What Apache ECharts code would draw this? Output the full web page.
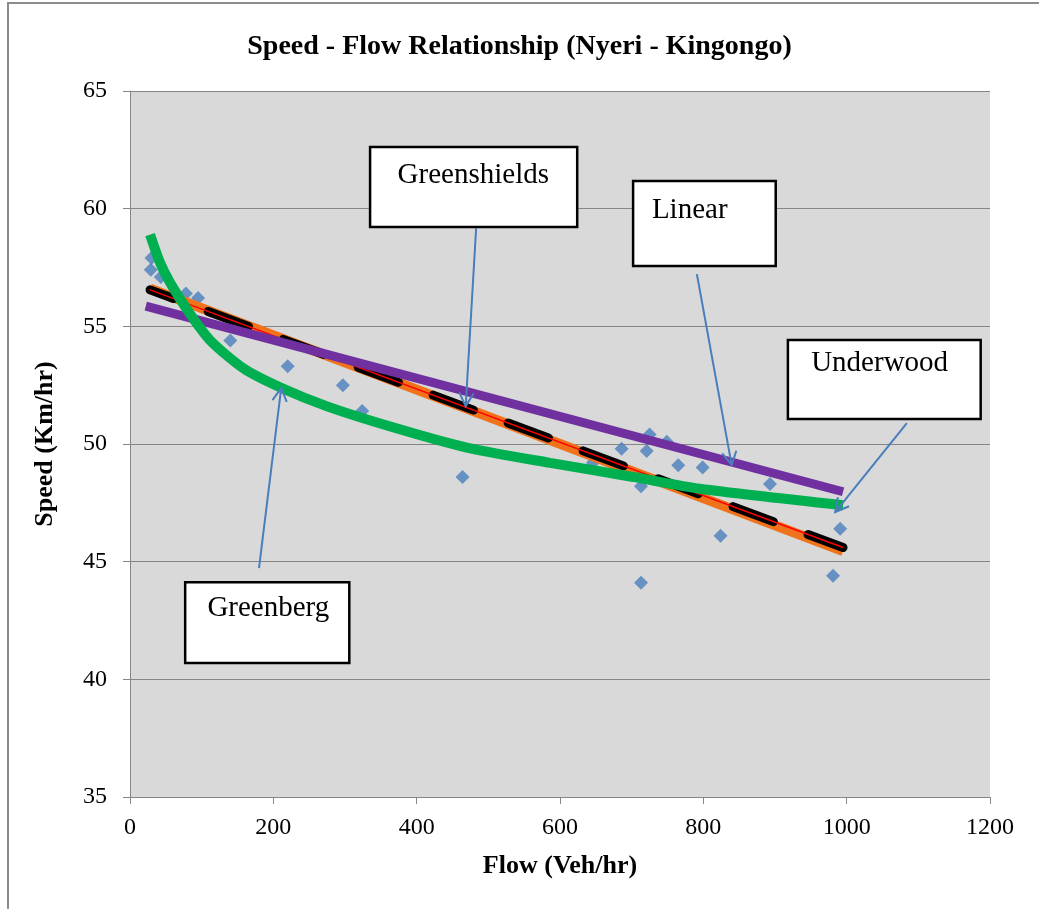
<!DOCTYPE html>
<html>
<head>
<meta charset="utf-8">
<title>Speed - Flow Relationship (Nyeri - Kingongo)</title>
<style>
  html, body { margin: 0; padding: 0; background: #fff; }
  #main { width: 1039px; height: 909px; }
</style>
<script src="https://cdn.jsdelivr.net/npm/echarts@6/dist/echarts.min.js"></script>
</head>
<body>
<div id="main"></div>
<script>
// observed flow / speed points
var obsFlow  = [29, 30, 43, 78, 95, 140, 220, 297, 324, 464, 646, 686, 713, 713, 721, 725, 749, 765, 799, 824, 893, 981, 991];
var obsSpeed = [57.4, 57.9, 57.1, 56.4, 56.2, 54.4, 53.3, 52.5, 51.4, 48.6, 49.2, 49.8, 48.2, 44.1, 49.7, 50.4, 50.1, 49.1, 49.0, 46.1, 48.3, 44.4, 46.4];

// fitted models
var linFlow  = [22, 995];
var linSpeed = [55.86, 47.97];

var gsFlow  = [28, 995];
var gsSpeed = [56.6, 45.45];

var fitFlow  = [28, 995];
var fitSpeed = [56.55, 45.6];

var gbFlow  = [28, 42, 56, 82, 112, 159, 210, 275, 368, 470, 586, 702, 795, 995];
var gbSpeed = [58.9, 57.7, 56.85, 55.6, 54.4, 53.2, 52.4, 51.6, 50.7, 49.85, 49.2, 48.6, 48.1, 47.4];

var xTicks = [0, 200, 400, 600, 800, 1000, 1200];
var yTicks = [35, 40, 45, 50, 55, 60, 65];

function pairs(xs, ys) {
  return xs.map(function (x, i) { return [x, ys[i]]; });
}

var serif = '"Liberation Serif", "DejaVu Serif", serif';

var chart = echarts.init(document.getElementById('main'));
var option = {
  animation: false,
  backgroundColor: '#fff',
  title: {
    text: 'Speed - Flow Relationship (Nyeri - Kingongo)',
    left: 'center',
    top: 28,
    textStyle: { fontFamily: serif, fontSize: 28, fontWeight: 'bold', color: '#000' }
  },
  grid: { left: 130, right: 49, top: 91, bottom: 112, show: true, backgroundColor: '#d9d9d9', borderWidth: 0 },
  xAxis: {
    type: 'value',
    min: xTicks[0], max: xTicks[xTicks.length - 1], interval: 200,
    name: 'Flow (Veh/hr)',
    nameLocation: 'middle',
    nameGap: 56,
    nameTextStyle: { fontFamily: serif, fontSize: 26, fontWeight: 'bold', color: '#000' },
    axisLine: { show: true, lineStyle: { color: '#868686', width: 1 } },
    axisTick: { show: true, length: 7, lineStyle: { color: '#868686' } },
    axisLabel: { fontFamily: serif, fontSize: 24, color: '#000', margin: 19,
      formatter: function (v) { return String(v); } },
    splitLine: { show: false }
  },
  yAxis: {
    type: 'value',
    min: yTicks[0], max: yTicks[yTicks.length - 1], interval: 5,
    name: 'Speed (Km/hr)',
    nameLocation: 'middle',
    nameGap: 72,
    nameTextStyle: { fontFamily: serif, fontSize: 26, fontWeight: 'bold', color: '#000' },
    axisLine: { show: true, lineStyle: { color: '#868686', width: 1 } },
    axisTick: { show: true, length: 7, lineStyle: { color: '#868686' } },
    axisLabel: { fontFamily: serif, fontSize: 24, color: '#000', margin: 23 },
    splitLine: { show: true, lineStyle: { color: '#868686', width: 1 } }
  },
  series: [
    {
      name: 'Observed', type: 'scatter', symbol: 'diamond', symbolSize: 14,
      itemStyle: { color: '#4a7ebb' },
      data: pairs(obsFlow, obsSpeed), z: 2
    },
    {
      name: 'Greenshields', type: 'line', showSymbol: false,
      lineStyle: { color: '#f0731c', width: 10 },
      data: pairs(gsFlow, gsSpeed), z: 3
    },
    {
      name: 'Fitted', type: 'line', showSymbol: false,
      lineStyle: { color: '#000', width: 9, type: [43, 37], dashOffset: 18, cap: 'round' },
      data: pairs(fitFlow, fitSpeed), z: 4
    },
    {
      name: 'Fitted line', type: 'line', showSymbol: false,
      lineStyle: { color: '#ff0000', width: 1.5 },
      data: pairs(fitFlow, fitSpeed), z: 5
    },
    {
      name: 'Linear', type: 'line', showSymbol: false,
      lineStyle: { color: '#7030a0', width: 9 },
      data: pairs(linFlow, linSpeed), z: 6
    },
    {
      name: 'Greenberg', type: 'line', showSymbol: false, smooth: 0.25,
      lineStyle: { color: '#00b050', width: 10 },
      data: pairs(gbFlow, gbSpeed), z: 7
    }
  ]
};
chart.setOption(option);

// call-out boxes and arrows, placed in data units
var notes = [
  { text: 'Greenshields', box: [335, 62.62, 624, 59.22], label: [479, 61.43], from: [483, 59.18], to: [468.4, 51.61] },
  { text: 'Linear',       box: [702, 61.18, 901, 57.56], label: [781, 59.94], from: [791, 57.22], to: [839.5, 49.11] },
  { text: 'Underwood',    box: [918, 54.42, 1187, 51.06], label: [1046, 53.44], from: [1084, 50.89], to: [984, 47.11] },
  { text: 'Greenberg',    box: [77, 44.13, 306, 40.69], label: [193, 43.03], from: [180, 44.73], to: [211, 52.38] }
];

function px(p) { return chart.convertToPixel({ gridIndex: 0 }, p); }

var graphics = [{
  type: 'rect', z: 0, silent: true,
  shape: { x: 8, y: 3, width: 1060, height: 940 },
  style: { fill: 'none', stroke: '#8c8c8c', lineWidth: 2 }
}];

notes.forEach(function (n) {
  var a = px([n.box[0], n.box[1]]);
  var b = px([n.box[2], n.box[3]]);
  var t = px(n.label);
  var s = px(n.from);
  var e = px(n.to);
  graphics.push({
    type: 'rect', z: 100,
    shape: { x: a[0], y: a[1], width: b[0] - a[0], height: b[1] - a[1] },
    style: { fill: '#fff', stroke: '#000', lineWidth: 2.5 }
  });
  graphics.push({
    type: 'text', z: 101,
    x: t[0], y: t[1],
    style: { text: n.text, font: '29px ' + serif, fill: '#000', align: 'center', verticalAlign: 'middle' }
  });
  graphics.push({
    type: 'line', z: 102,
    shape: { x1: s[0], y1: s[1], x2: e[0], y2: e[1] },
    style: { stroke: '#4a7ebb', lineWidth: 2 }
  });
  var ang = Math.atan2(e[1] - s[1], e[0] - s[0]);
  var hl = 15, spread = 0.5;
  graphics.push({
    type: 'polyline', z: 102,
    shape: { points: [
      [e[0] - hl * Math.cos(ang - spread), e[1] - hl * Math.sin(ang - spread)],
      [e[0], e[1]],
      [e[0] - hl * Math.cos(ang + spread), e[1] - hl * Math.sin(ang + spread)]
    ] },
    style: { stroke: '#4a7ebb', lineWidth: 2, fill: 'none' }
  });
});

chart.setOption({ graphic: graphics });
</script>
</body>
</html>
